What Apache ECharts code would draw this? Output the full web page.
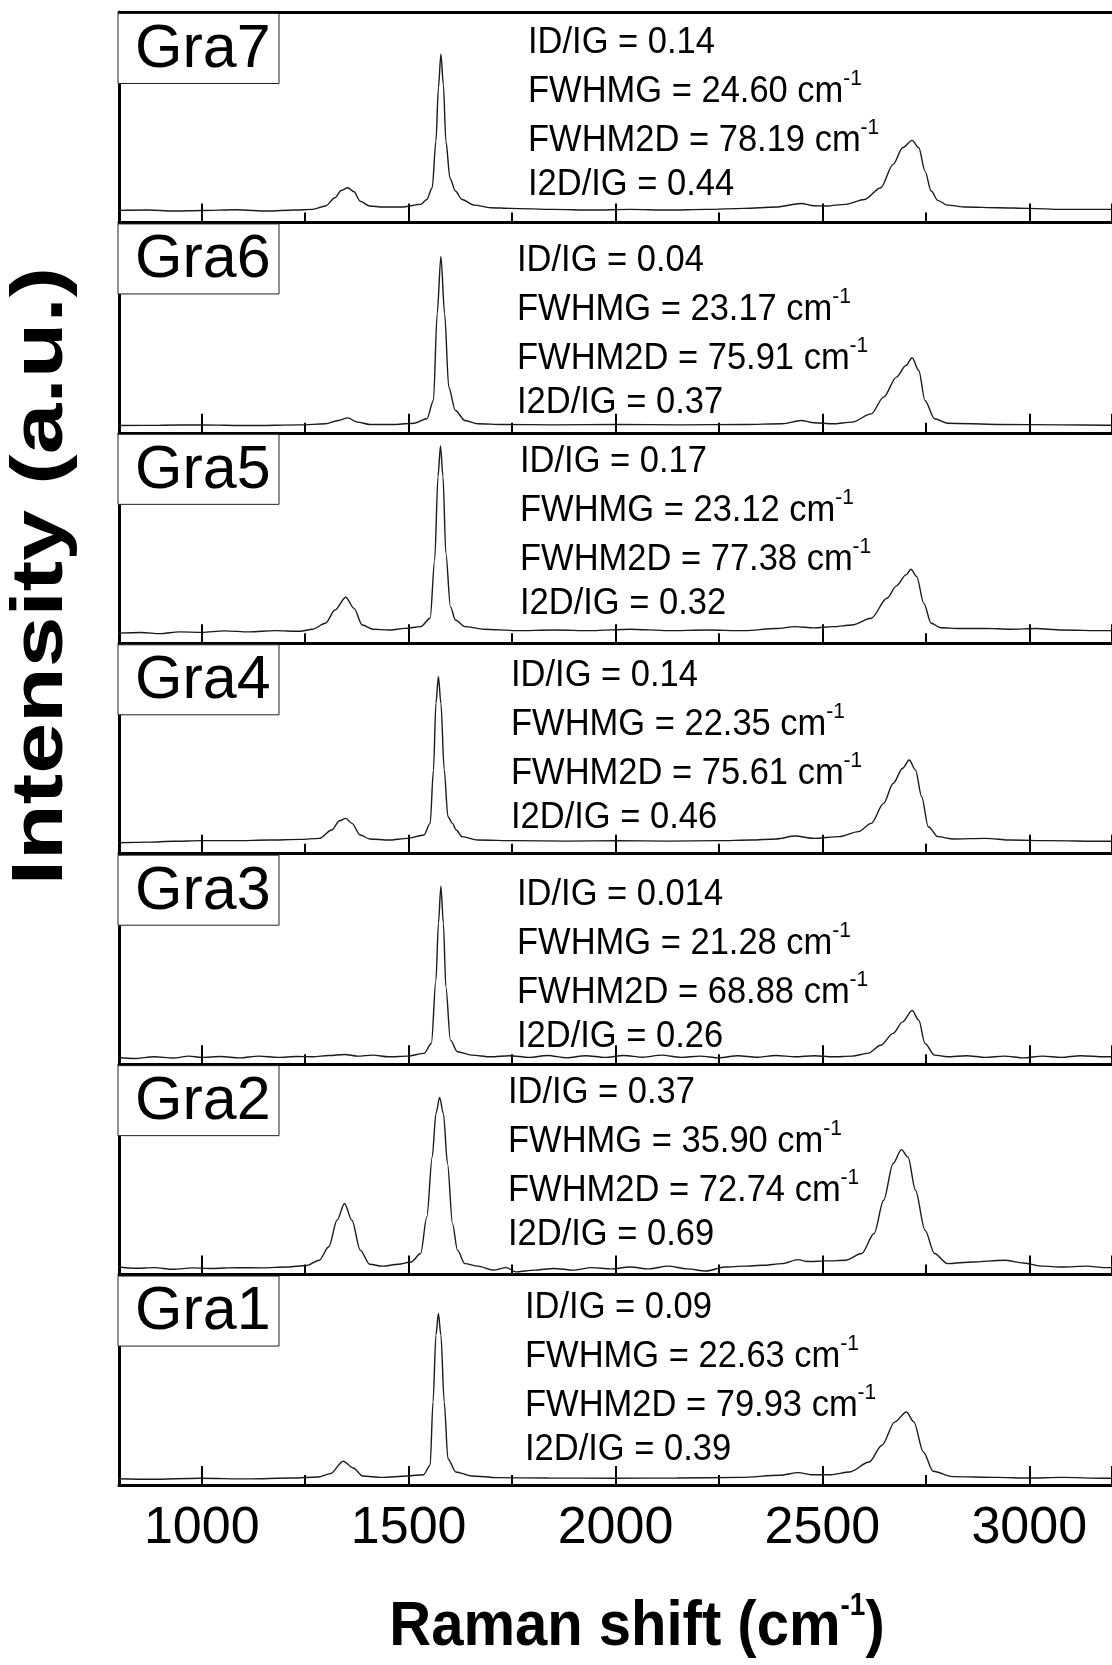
<!DOCTYPE html>
<html>
<head>
<meta charset="utf-8">
<script src="https://cdn.jsdelivr.net/npm/echarts@6/dist/echarts.min.js"></script>
<style>
  html, body { margin: 0; padding: 0; background: #ffffff; }
  #chart { width: 1112px; height: 1665px; }
</style>
</head>
<body>
<div id="chart"></div>
<script>
// Raman spectra of seven graphene samples, stacked Gra7 (top) to Gra1 (bottom).
// Each spectrum: [Raman shift (cm-1), relative intensity in % of its panel height].

const panelNames = ['Gra7', 'Gra6', 'Gra5', 'Gra4', 'Gra3', 'Gra2', 'Gra1'];
const idIg   = ['0.14', '0.04', '0.17', '0.14', '0.014', '0.37', '0.09'];
const fwhmG  = ['24.60', '23.17', '23.12', '22.35', '21.28', '35.90', '22.63'];
const fwhm2D = ['78.19', '75.91', '77.38', '75.61', '68.88', '72.74', '79.93'];
const i2dIg  = ['0.44', '0.37', '0.32', '0.46', '0.26', '0.69', '0.39'];

const gra7 = [
  [796,5.7],[870,5.9],[931,5.4],[1000,5.7],[1084,6.0],[1161,5.4],[1222,5.9],[1268,6.2],
  [1299,7.8],[1322,11.7],[1337,15.2],[1353,16.5],[1368,14.6],[1383,10.1],[1406,7.8],
  [1437,7.3],[1483,7.3],[1529,8.6],[1544,10.9],[1557,16.5],[1566,38.7],[1572,64],
  [1578,80],[1584,65.5],[1590,38.7],[1600,21],[1613,14.9],[1629,10.9],[1659,8.2],
  [1698,7.0],[1747,6.7],[1851,6.2],[1943,5.9],[2035,6.2],[2127,5.9],[2219,6.2],
  [2311,6.7],[2388,7.3],[2449,9.0],[2480,7.9],[2510,7.8],[2556,8.6],[2602,10.9],
  [2641,16.5],[2671,27.6],[2694,35.5],[2717,39],[2733,35.5],[2748,24.4],[2763,14.9],
  [2779,10.5],[2802,8.2],[2848,7.3],[2924,7.0],[3001,6.7],[3078,6.2],[3182,6.2],[3200,6.2]
];

const gra6 = [
  [796,3.5],[900,3.6],[1000,3.8],[1115,3.5],[1238,3.8],[1299,4.3],[1330,5.9],[1353,7.1],
  [1376,5.1],[1406,4.0],[1468,4.0],[1514,4.6],[1544,6.7],[1560,15.4],[1569,56.6],
  [1578,83.8],[1587,56.6],[1597,21.7],[1613,10.6],[1636,5.9],[1667,4.3],[1728,4.0],
  [1851,3.8],[2004,4.0],[2158,3.8],[2311,4.0],[2403,4.3],[2449,5.9],[2480,4.8],
  [2526,4.3],[2572,5.1],[2618,9.0],[2648,17],[2679,26.5],[2702,32],[2717,35.7],
  [2733,29.6],[2748,15.4],[2771,6.7],[2802,4.6],[2924,4.0],[3078,3.8],[3182,3.6],[3200,3.6]
];

const gra5 = [
  [796,4.8],[854,5.1],[900,4.6],[946,5.4],[1000,5.2],[1054,5.9],[1115,5.4],[1176,6.0],
  [1238,5.7],[1268,6.7],[1299,9.5],[1322,15.8],[1348,21.9],[1368,16.6],[1388,8.7],
  [1414,6.7],[1452,6.3],[1491,7.1],[1529,7.9],[1552,11.9],[1563,39.6],[1571,79.2],
  [1577,93.8],[1583,79.2],[1590,42.8],[1601,17.4],[1613,11.1],[1636,7.9],[1682,6.7],
  [1759,6.0],[1851,6.3],[1943,6.0],[2035,6.7],[2127,6.0],[2219,6.3],[2311,6.0],
  [2388,7.0],[2434,7.9],[2480,7.3],[2526,7.9],[2572,8.7],[2618,11.9],[2656,21.4],
  [2679,27.3],[2702,32.5],[2714,35.2],[2728,31.7],[2745,19.0],[2763,9.5],[2786,7.4],
  [2832,7.0],[2894,7.1],[2955,6.7],[3016,7.0],[3078,6.3],[3182,6.0],[3200,6.0]
];

const gra4 = [
  [796,5.2],[870,5.5],[931,5.9],[1000,6.2],[1084,6.2],[1161,6.5],[1238,6.8],[1284,7.3],
  [1314,11.3],[1333,15.7],[1348,16.8],[1363,14.4],[1383,8.9],[1406,7.0],[1452,6.5],
  [1498,7.3],[1537,8.9],[1552,14.4],[1560,39.8],[1566,71.5],[1572,84.2],[1578,71.5],
  [1586,39.8],[1595,17.6],[1606,14.4],[1615,11.3],[1629,8.1],[1667,6.5],[1759,6.2],
  [1882,6.0],[2004,6.2],[2127,6.0],[2250,6.2],[2326,6.5],[2388,7.0],[2434,8.4],
  [2480,7.3],[2541,8.1],[2587,10.5],[2618,14.4],[2648,23.9],[2671,33.4],[2694,40.6],
  [2710,44.5],[2725,39.8],[2740,27.1],[2756,12.8],[2779,8.1],[2817,7.0],[2894,7.3],
  [2955,6.5],[3047,6.2],[3182,5.9],[3200,5.9]
];

const gra3 = [
  [796,3.2],[839,2.7],[885,3.5],[931,2.9],[969,3.8],[1000,3.2],[1046,3.6],[1092,3.0],
  [1138,3.8],[1184,3.2],[1230,3.6],[1268,3.5],[1307,4.1],[1345,4.6],[1376,3.8],
  [1414,4.3],[1452,3.5],[1498,3.8],[1537,5.1],[1555,9.8],[1566,39.9],[1572,66.9],
  [1578,84.6],[1584,66.9],[1590,36.8],[1601,11.4],[1618,5.9],[1652,4.3],[1698,3.5],
  [1744,4.0],[1790,3.2],[1836,4.1],[1882,3.0],[1928,4.0],[1974,3.2],[2020,4.1],
  [2066,3.3],[2112,4.3],[2158,3.2],[2204,3.8],[2250,3.0],[2296,4.0],[2342,3.3],
  [2388,4.1],[2434,3.5],[2480,4.0],[2526,3.5],[2572,3.8],[2610,5.1],[2641,9.0],
  [2671,14.6],[2694,20.1],[2717,25.5],[2733,20.9],[2748,9.8],[2771,4.3],[2802,3.5],
  [2848,4.0],[2894,3.2],[2940,3.8],[2986,3.0],[3032,3.8],[3078,3.2],[3124,4.0],
  [3182,3.5],[3200,3.5]
];

const gra2 = [
  [796,3.6],[839,3.0],[885,3.3],[931,2.5],[977,3.2],[1023,2.9],[1084,3.3],[1146,3.2],
  [1207,3.6],[1253,4.3],[1284,6.8],[1307,13.2],[1327,25.8],[1345,33.8],[1363,25.8],
  [1383,11.6],[1406,4.9],[1437,4.0],[1475,4.9],[1506,6.0],[1529,10.0],[1544,27.4],
  [1557,55.9],[1566,76.5],[1575,84.2],[1584,76.5],[1594,52.8],[1606,24.2],[1618,11.6],
  [1636,5.2],[1667,4.0],[1705,2.1],[1736,3.3],[1759,1.3],[1805,2.1],[1851,2.9],
  [1897,2.1],[1943,3.3],[1989,2.7],[2035,3.6],[2081,2.7],[2127,4.0],[2173,2.7],
  [2219,1.7],[2265,3.6],[2311,4.0],[2357,4.4],[2403,5.2],[2441,7.1],[2464,6.2],
  [2510,6.5],[2556,6.8],[2595,10.0],[2625,19.5],[2648,35.3],[2671,52.8],[2691,59.4],
  [2707,55.9],[2725,40.1],[2748,21.1],[2771,10.0],[2802,5.2],[2863,6.0],[2940,6.8],
  [2986,5.5],[3032,4.0],[3078,3.6],[3139,4.0],[3182,3.3],[3200,3.3]
];

const gra1 = [
  [797,3.0],[878,2.7],[997,3.2],[1110,2.9],[1219,3.3],[1281,3.8],[1311,5.4],[1342,11.3],
  [1366,8.1],[1389,4.3],[1435,3.6],[1497,4.3],[1536,4.9],[1552,9.4],[1559,39.5],
  [1566,71.2],[1572,81.5],[1578,71.2],[1586,39.5],[1595,12.5],[1614,6.2],[1652,4.3],
  [1714,3.5],[1838,3.3],[1993,3.2],[2148,3.3],[2303,3.6],[2396,4.6],[2442,5.9],
  [2473,4.9],[2520,4.9],[2566,6.2],[2613,10.9],[2644,18.9],[2675,30.0],[2703,34.7],
  [2721,30.0],[2744,15.7],[2768,6.5],[2814,4.0],[2922,3.6],[3000,3.3],[3077,3.6],
  [3183,3.2],[3200,3.2]
];

const spectra = [gra7, gra6, gra5, gra4, gra3, gra2, gra1];

// ---- layout ----
const GRID_LEFT = 119;
const GRID_RIGHT = -8;
const TOP0 = 12;
const PANEL_H = (1485 - 12) / 7;
const FONT = '"Liberation Sans", Arial, Helvetica, sans-serif';

// left edge / first-line centre of each panel's annotation block
const noteAnchor = [
  [528, 43], [517, 261], [520, 462], [511, 676], [517, 895], [508, 1093], [525, 1308]
];
const noteLineOffset = [0, 49, 98, 142];

const grids = [], xAxes = [], yAxes = [], series = [], elements = [];

spectra.forEach((data, i) => {
  const top = TOP0 + i * PANEL_H;
  const isBottom = i === spectra.length - 1;
  grids.push({ left: GRID_LEFT, right: GRID_RIGHT, top: top, height: PANEL_H });
  xAxes.push({
    gridIndex: i, type: 'value', min: 800, max: 3200, splitNumber: 5,
    position: 'bottom',
    axisLine: { onZero: false, lineStyle: { color: '#000', width: 3 } },
    axisTick: { show: true, inside: true, length: 19, lineStyle: { color: '#000', width: 2 } },
    minorTick: { show: true, splitNumber: 2, length: 10, lineStyle: { color: '#000', width: 2 } },
    splitLine: { show: false },
    axisLabel: {
      show: isBottom, showMinLabel: false, showMaxLabel: false,
      formatter: (v) => String(v),
      color: '#000', fontSize: 52, fontFamily: FONT, margin: 44, verticalAlign: 'middle'
    }
  });
  yAxes.push({
    gridIndex: i, type: 'value', min: 0, max: 100,
    axisLine: { show: true, onZero: false, lineStyle: { color: '#000', width: 3 } },
    axisTick: { show: false }, axisLabel: { show: false }, splitLine: { show: false }
  });
  series.push({
    type: 'line', name: panelNames[i], xAxisIndex: i, yAxisIndex: i,
    data: data, showSymbol: false, symbol: 'none', smooth: 0.3, smoothMonotone: 'x',
    lineStyle: { color: '#1a1a1a', width: 1.4 }, animation: false
  });

  // sample label box
  elements.push({
    type: 'rect', z: 100,
    shape: { x: 118, y: top + 1.5, width: 161, height: 70 },
    style: { fill: '#fff', stroke: '#222', lineWidth: 1 }
  });
  elements.push({
    type: 'text', z: 101, x: 135, y: top + 38,
    style: { text: panelNames[i], font: '61px ' + FONT, fill: '#000', verticalAlign: 'middle' }
  });

  // fit parameters
  const lines = [
    '{m|ID/IG = ' + idIg[i] + '}',
    '{m|FWHMG = ' + fwhmG[i] + ' cm}{s|-1}',
    '{m|FWHM2D = ' + fwhm2D[i] + ' cm}{s|-1}',
    '{m|I2D/IG = ' + i2dIg[i] + '}'
  ];
  lines.forEach((t, j) => {
    elements.push({
      type: 'text', z: 101,
      x: noteAnchor[i][0], y: noteAnchor[i][1] + noteLineOffset[j], scaleY: 1.07,
      style: {
        text: t, align: 'left', verticalAlign: 'middle', fill: '#000',
        rich: {
          m: { fontSize: 34.5, fontFamily: FONT, lineHeight: 46, fill: '#000' },
          s: { fontSize: 21, fontFamily: FONT, lineHeight: 18, verticalAlign: 'top', fill: '#000' }
        }
      }
    });
  });
});

// top frame line of the stack
xAxes.push({
  gridIndex: 0, type: 'value', min: 800, max: 3200, position: 'top',
  axisLine: { onZero: false, lineStyle: { color: '#000', width: 3 } },
  axisTick: { show: false }, axisLabel: { show: false }, splitLine: { show: false }
});

// axis titles
elements.push({
  type: 'text', z: 101, x: 637, y: 1627, scaleY: 1.1,
  style: {
    text: '{t|Raman shift (cm}{s|-1}{t|)}', align: 'center', verticalAlign: 'middle',
    rich: {
      t: { fontSize: 58, fontWeight: 'bold', fontFamily: FONT, lineHeight: 66, fill: '#000' },
      s: { fontSize: 28, fontWeight: 'bold', fontFamily: FONT, lineHeight: 24, verticalAlign: 'top', fill: '#000' }
    }
  }
});
elements.push({
  type: 'text', z: 101, x: 42, y: 576, rotation: Math.PI / 2, scaleX: 1.25,
  style: {
    text: 'Intensity (a.u.)', align: 'center', verticalAlign: 'middle',
    fontSize: 73, fontWeight: 'bold', fontFamily: FONT, fill: '#000'
  }
});

const chart = echarts.init(document.getElementById('chart'), null, { renderer: 'canvas' });
chart.setOption({
  backgroundColor: '#ffffff',
  animation: false,
  grid: grids,
  xAxis: xAxes,
  yAxis: yAxes,
  series: series,
  graphic: { elements: elements }
});
</script>
</body>
</html>
